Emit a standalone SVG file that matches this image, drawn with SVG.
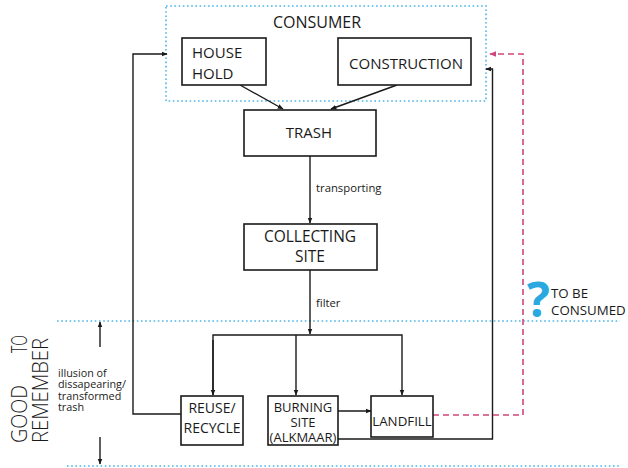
<svg xmlns="http://www.w3.org/2000/svg" width="628" height="468" viewBox="0 0 628 468">
<defs>
<style>
.box{fill:#fff;stroke:#1a1a1a;stroke-width:1.6}
.ln{fill:none;stroke:#1a1a1a;stroke-width:1.4}
.dot{fill:none;stroke:#4db6e6;stroke-width:1.6;stroke-dasharray:1.6 2.6}
.pink{fill:none;stroke:#d0457a;stroke-width:1.6;stroke-dasharray:6 4}
text{font-family:"Open Sans","Noto Sans","Liberation Sans",sans-serif;fill:#1a1a1a}
.t15{font-size:15px}
.t13{font-size:13.3px}
.sm{font-size:11.3px}
.il{font-size:10.8px}
</style>
<marker id="ah" viewBox="0 0 10 10" refX="9" refY="5" markerWidth="6" markerHeight="6" markerUnits="userSpaceOnUse" orient="auto">
<path d="M0,1 L10,5 L0,9 z" fill="#1a1a1a"/>
</marker>
<marker id="ahp" viewBox="0 0 10 10" refX="9" refY="5" markerWidth="7" markerHeight="7" markerUnits="userSpaceOnUse" orient="auto">
<path d="M0,1 L10,5 L0,9 z" fill="#d0457a"/>
</marker>
</defs>
<rect width="628" height="468" fill="#fff"/>

<g id="guides">
<rect class="dot" x="166" y="6" width="320" height="95"/>
<line class="dot" x1="57" y1="321" x2="620" y2="321"/>
<line class="dot" x1="67" y1="466" x2="620" y2="466"/>
</g>

<g id="connectors">
<line class="ln" x1="240" y1="85" x2="283" y2="109" marker-end="url(#ah)"/>
<line class="ln" x1="397" y1="85" x2="331" y2="109" marker-end="url(#ah)"/>
<line class="ln" x1="310" y1="156" x2="310" y2="223" marker-end="url(#ah)"/>
<line class="ln" x1="310" y1="270" x2="310" y2="334" marker-end="url(#ah)"/>
<polyline class="ln" points="213,395 213,335 402,335 402,395" marker-end="url(#ah)"/>
<line class="ln" x1="213" y1="340" x2="213" y2="395" marker-end="url(#ah)"/>
<line class="ln" x1="296" y1="335" x2="296" y2="395" marker-end="url(#ah)"/>
<line class="ln" x1="338" y1="411" x2="371" y2="411" marker-end="url(#ah)"/>
<polyline class="ln" points="181,414 133,414 133,54 167,54" marker-end="url(#ah)"/>
<polyline class="ln" points="338,439 492.5,439 492.5,69 486,69" marker-end="url(#ah)"/>
<polyline class="pink" points="433,415 523,415 523,54 490,54" marker-end="url(#ahp)"/>
<line class="ln" x1="100" y1="347" x2="100" y2="322" marker-end="url(#ah)"/>
<line class="ln" x1="100" y1="437" x2="100" y2="464" marker-end="url(#ah)"/>
</g>

<g id="consumer">
<text x="317" y="28" text-anchor="middle" style="font-size:16px">CONSUMER</text>
</g>
<g id="household">
<rect class="box" x="182" y="38" width="84" height="47"/>
<text class="t15" x="192" y="58">HOUSE</text>
<text class="t15" x="192" y="79">HOLD</text>
</g>
<g id="construction">
<rect class="box" x="338" y="38" width="133" height="47"/>
<text class="t15" x="406" y="69" text-anchor="middle">CONSTRUCTION</text>
</g>
<g id="trash">
<rect class="box" x="244" y="110" width="132" height="46"/>
<text class="t15" x="309" y="138" text-anchor="middle">TRASH</text>
</g>
<g id="collecting">
<rect class="box" x="244" y="224" width="133" height="46"/>
<text x="310" y="242" text-anchor="middle" style="font-size:15.5px">COLLECTING</text>
<text x="310" y="262" text-anchor="middle" style="font-size:15.5px">SITE</text>
</g>
<g id="labels">
<text class="sm" x="316" y="192">transporting</text>
<text class="sm" x="316" y="307">filter</text>
<text class="il" x="58" y="376.5">illusion of</text>
<text class="il" x="58" y="388">dissapearing/</text>
<text class="il" x="58" y="399.5">transformed</text>
<text class="il" x="58" y="411">trash</text>
</g>
<g id="reuse">
<rect class="box" x="181" y="396" width="62" height="49"/>
<text x="212" y="413" text-anchor="middle" style="font-size:14px">REUSE/</text>
<text x="212" y="433" text-anchor="middle" style="font-size:14px">RECYCLE</text>
</g>
<g id="burning">
<rect class="box" x="268" y="396" width="70" height="49"/>
<text x="303" y="412" text-anchor="middle" style="font-size:13px">BURNING</text>
<text x="303" y="427" text-anchor="middle" style="font-size:13px">SITE</text>
<text x="303" y="442" text-anchor="middle" style="font-size:13px">(ALKMAAR)</text>
</g>
<g id="landfill">
<rect class="box" x="371" y="396" width="62" height="41"/>
<text class="t13" x="402" y="426" text-anchor="middle">LANDFILL</text>
</g>
<g id="tobeconsumed">
<text x="538.5" y="317" text-anchor="middle" style="font-size:48px;font-weight:bold;fill:#2aa8e0">?</text>
<text class="t13" x="551" y="298">TO BE</text>
<text class="t13" x="551" y="315">CONSUMED</text>
</g>
<g id="goodtoremember">
<text transform="translate(27,443) rotate(-90)" style="font-size:22px;font-weight:300"><tspan x="0" y="0" textLength="58" lengthAdjust="spacingAndGlyphs">GOOD</tspan><tspan x="90" y="0" textLength="18" lengthAdjust="spacingAndGlyphs">TO</tspan></text>
<text transform="translate(48,443) rotate(-90)" style="font-size:22px;font-weight:300" textLength="105" lengthAdjust="spacingAndGlyphs">REMEMBER</text>
</g>
</svg>
